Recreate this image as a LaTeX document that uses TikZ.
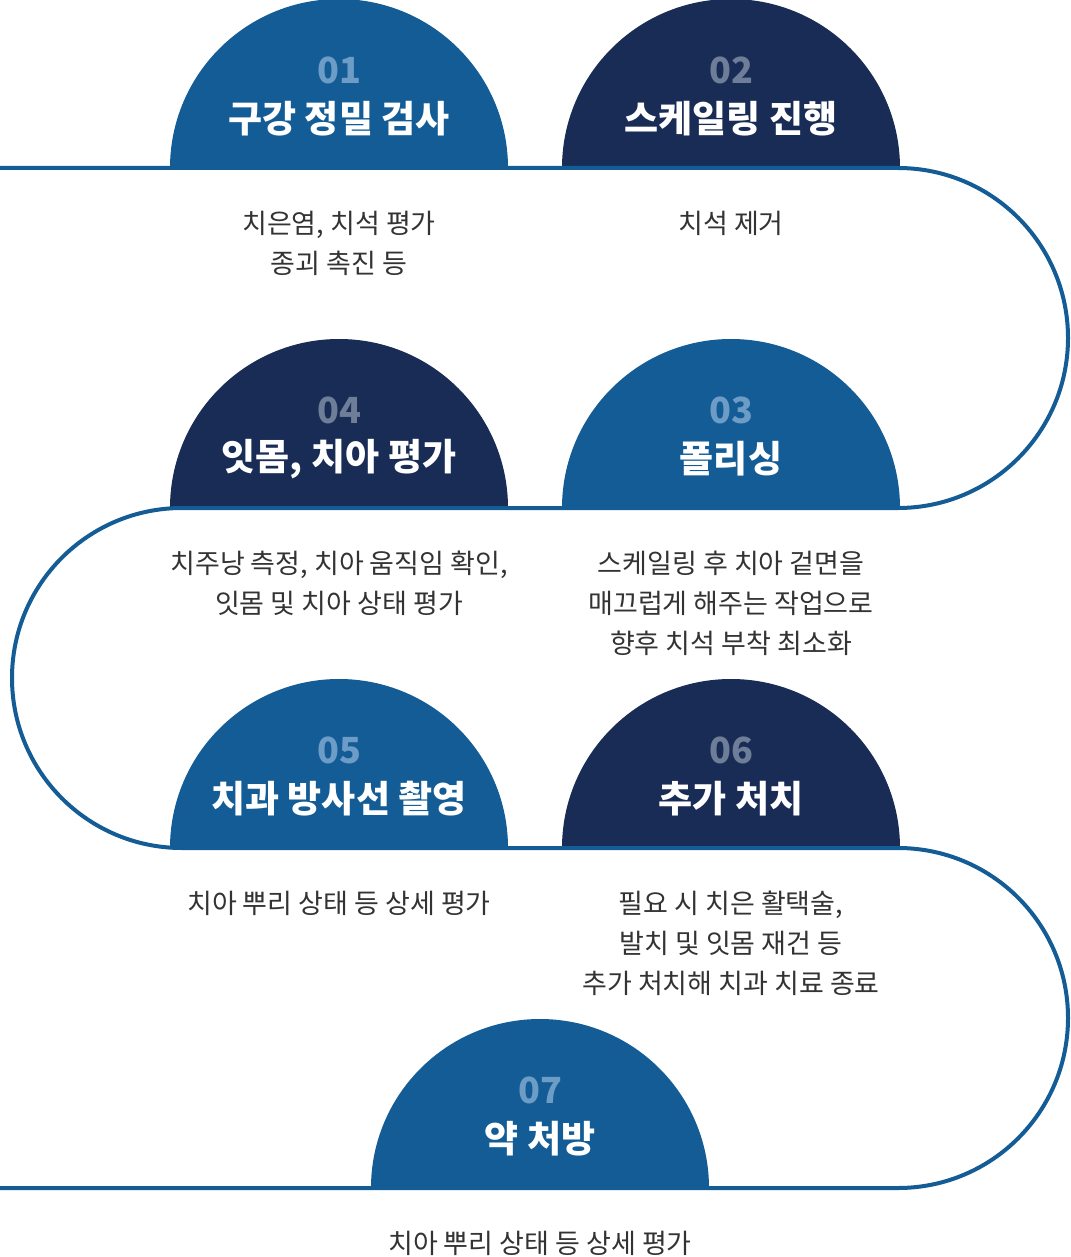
\documentclass[tikz,border=0pt]{standalone}
\usepackage{fontspec}
\setmainfont{Noto Sans CJK KR}
\definecolor{stepblue}{HTML}{135C96}
\definecolor{stepnavy}{HTML}{182C55}
\definecolor{numblue}{HTML}{6D9CC6}
\definecolor{numnavy}{HTML}{6E7D98}
\definecolor{desctext}{HTML}{333333}
\tikzset{
  steptitle/.style={text=white, inner sep=0pt, font=\bfseries\fontsize{37}{40}\selectfont},
  stepnum/.style={inner sep=0pt, font=\bfseries\fontsize{36}{40}\selectfont},
  stepdesc/.style={text=desctext, align=center, anchor=north, inner sep=0pt, font=\fontsize{27}{40}\selectfont},
  pathline/.style={draw=stepblue, line width=4pt}
}
\begin{document}
\begin{tikzpicture}[x=1pt,y=-1pt]
        \useasboundingbox (0,0) rectangle (1070,1257);
        \foreach \name/\x/\y/\c/\nc/\n/\t/\d in {
                a/339/168/stepblue/numblue/01/{구강 정밀 검사}/{치은염, 치석 평가\\종괴 촉진 등},
                b/731/168/stepnavy/numnavy/02/{스케일링 진행}/{치석 제거},
                c/731/508/stepblue/numblue/03/{폴리싱}/{스케일링 후 치아 겉면을\\매끄럽게 해주는 작업으로\\향후 치석 부착 최소화},
                d/339/508/stepnavy/numnavy/04/{잇몸, 치아 평가}/{치주낭 측정, 치아 움직임 확인,\\잇몸 및 치아 상태 평가},
                e/339/848/stepblue/numblue/05/{치과 방사선 촬영}/{치아 뿌리 상태 등 상세 평가},
                f/731/848/stepnavy/numnavy/06/{추가 처치}/{필요 시 치은 활택술,\\발치 및 잇몸 재건 등\\추가 처치해 치과 치료 종료},
                g/540/1188/stepblue/numblue/07/{약 처방}/{치아 뿌리 상태 등 상세 평가}} {
                        \fill[\c] (\x-169,\y) arc[start angle=180, end angle=360, radius=169] -- cycle;
                        \node[stepnum, text=\nc] (num\name) at (\x,\y-98) {\n};
                        \node[steptitle] (title\name) at (\x,\y-49) {\t};
                        \node[stepdesc] (desc\name) at (\x,\y+43) {\d};
            }
        % winding line
        \coordinate (lineA) at (0,168);
        \coordinate (lineB) at (898,168);
        \coordinate (lineC) at (182,508);
        \coordinate (lineD) at (898,848);
        \coordinate (lineE) at (0,1188);
        \draw[pathline] (lineA) -- (lineB) arc[start angle=-90, end angle=90, radius=170]
                -- (lineC) arc[start angle=270, end angle=90, radius=170]
                -- (lineD) arc[start angle=-90, end angle=90, radius=170] -- (lineE);
    \end{tikzpicture}
\end{document}
